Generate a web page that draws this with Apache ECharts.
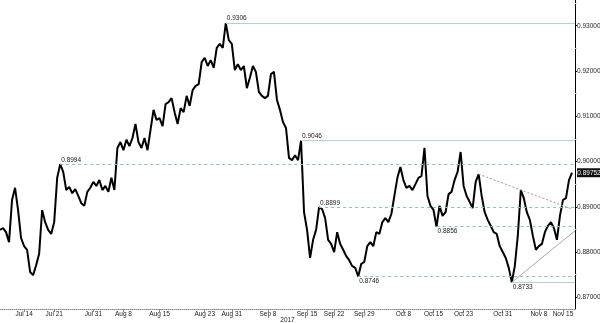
<!DOCTYPE html>
<html><head><meta charset="utf-8">
<script src="https://cdn.jsdelivr.net/npm/echarts@6/dist/echarts.min.js"></script>
<style>html,body{margin:0;padding:0;background:#fff}#c{width:600px;height:323px}</style>
</head><body><div id="c"></div>
<script>
// Price series (one value per ~half trading day)
const price = [
0.8849,0.8853,0.8844,0.8822,0.8915,0.8942,0.8893,0.8831,0.8813,0.8805,
0.8756,0.8749,0.8771,0.8796,0.8893,0.8866,0.8849,0.8840,0.8866,0.8964,
0.8994,0.8977,0.8937,0.8944,0.8930,0.8939,0.8924,0.8908,0.8902,0.8933,
0.8942,0.8955,0.8946,0.8959,0.8937,0.8946,0.8933,0.8964,0.8937,0.9030,
0.9043,0.9025,0.9048,0.9034,0.9052,0.9083,0.9043,0.9030,0.9052,0.9025,
0.9070,0.9114,0.9092,0.9096,0.9078,0.9127,0.9131,0.9140,0.9109,0.9083,
0.9118,0.9109,0.9145,0.9123,0.9158,0.9167,0.9171,0.9220,0.9229,0.9211,
0.9224,0.9207,0.9251,0.9260,0.9251,0.9306,0.9268,0.9260,0.9202,0.9215,
0.9202,0.9211,0.9162,0.9185,0.9211,0.9198,0.9154,0.9145,0.9140,0.9145,
0.9193,0.9198,0.9136,0.9114,0.9087,0.9074,0.9008,0.9003,0.9014,0.9003,
0.9046,0.8888,0.8849,0.8787,0.8827,0.8849,0.8899,0.8895,0.8875,0.8827,
0.8818,0.8800,0.8844,0.8818,0.8805,0.8791,0.8782,0.8769,0.8765,0.8746,
0.8774,0.8778,0.8813,0.8822,0.8813,0.8844,0.8840,0.8866,0.8875,0.8866,
0.8884,0.8924,0.8964,0.8988,0.8959,0.8942,0.8946,0.8937,0.8950,0.8964,
0.8968,0.9030,0.8924,0.8902,0.8893,0.8856,0.8902,0.8880,0.8888,0.8928,
0.8933,0.8959,0.8977,0.9021,0.8946,0.8924,0.8911,0.8897,0.8955,0.8972,
0.8924,0.8888,0.8871,0.8858,0.8844,0.8840,0.8813,0.8800,0.8787,0.8765,
0.8733,0.8769,0.8836,0.8937,0.8919,0.8888,0.8871,0.8836,0.8805,0.8813,
0.8818,0.8844,0.8858,0.8866,0.8853,0.8827,0.8880,0.8915,0.8919,0.8959,
0.89752,null
];
const xTickLabels = ['Jul 14','Jul 21','Jul 31','Aug 8','Aug 15','Aug 23','Aug 31','Sep 8','Sep 15','Sep 22','Sep 29','Oct 8','Oct 15','Oct 23','Oct 31','Nov 8','Nov 15'];
const xTickAt = [8,18,31,41,53,68,77,89,102,111,121,134,144,154,167,179,187];
const yearLabel = '2017';
const yTicks = [0.87,0.88,0.89,0.90,0.91,0.92,0.93];
const yMinorTicks = [0.875,0.885,0.895,0.905,0.915,0.925,0.935];
// Horizontal support / resistance levels
const levelValues = [0.9306,0.9046,0.8994,0.8899,0.8856,0.8746,0.8733];
const levelFrom   = [75,100,20,106,145,119,170];
const levelSolid  = [true,true,false,false,false,false,true];
const levelBelow  = [false,false,false,false,true,true,true];
// Trend lines [index, value]
const trendDown = [[159,0.8972],[190,0.8895]];
const trendUp   = [[170,0.8733],[191,0.8847]];
const lastPrice = 0.89752;

const xCats = price.map((_, i) => String(i));
const lastIdx = xCats.length - 1;
const labelAt = {};
xTickAt.forEach((k, j) => { labelAt[k] = xTickLabels[j]; });

const FONT = 'Liberation Sans';
const lines = levelValues.map((v, j) => [
  {coord: [levelFrom[j], v],
   lineStyle: {color: levelSolid[j] ? '#a9d9ca' : '#86c6b1', width: 1, type: levelSolid[j] ? 'solid' : [3, 3]},
   label: {show: true, position: levelBelow[j] ? 'insideStartBottom' : 'insideStartTop',
           formatter: v.toFixed(4), fontSize: 6.5, fontFamily: FONT, color: '#222', distance: 1}},
  {coord: [lastIdx, v]}
]);
lines.push([
  {coord: trendDown[0], lineStyle: {color: '#999', width: 1, type: [2, 2]}, label: {show: false}},
  {coord: trendDown[1]}
]);
lines.push([
  {coord: trendUp[0], lineStyle: {color: '#aaa', width: 1, type: 'solid'}, label: {show: false}},
  {coord: trendUp[1]}
]);

const chart = echarts.init(document.getElementById('c'), null, {renderer: 'canvas'});
chart.setOption({
  animation: false,
  backgroundColor: '#fff',
  grid: {left: 0, right: 25, top: 0, bottom: 14, containLabel: false, outerBoundsMode: 'none'},
  xAxis: {
    type: 'category', data: xCats, boundaryGap: false,
    axisLine: {lineStyle: {color: '#888', type: 'dotted', width: 1}},
    axisTick: {interval: (i) => labelAt[i] !== undefined, length: 3, lineStyle: {color: '#888'}},
    axisLabel: {interval: (i) => labelAt[i] !== undefined, formatter: (v, i) => labelAt[i] || '',
                fontSize: 6.5, fontFamily: FONT, color: '#222', margin: 2},
    splitLine: {show: false},
    name: yearLabel, nameLocation: 'middle', nameGap: 8, nameMoveOverlap: false,
    nameTextStyle: {fontSize: 6.5, fontFamily: FONT, color: '#222'}
  },
  yAxis: [{
    type: 'value', position: 'right', min: 0.86742, max: 0.93568,
    axisLine: {show: true, lineStyle: {color: '#000', width: 1}},
    axisTick: {show: true, customValues: yTicks, length: 2, lineStyle: {color: '#000'}},
    axisLabel: {customValues: yTicks, formatter: (v) => v.toFixed(5), fontSize: 6.5, fontFamily: FONT, color: '#222', margin: 2},
    splitLine: {show: false}
  }, {
    type: 'value', position: 'right', min: 0.86742, max: 0.93568,
    axisLine: {show: false},
    axisTick: {show: true, customValues: yMinorTicks, length: 2, lineStyle: {color: '#ccc'}},
    axisLabel: {show: false},
    splitLine: {show: false}
  }],
  series: [{
    type: 'line', data: price, showSymbol: false, symbol: 'none',
    lineStyle: {color: '#000', width: 2},
    markLine: {silent: true, symbol: 'none', animation: false, data: lines},
    markPoint: {
      silent: true, animation: false,
      data: [{coord: [lastIdx - 1, lastPrice], symbol: 'rect', symbolSize: [24, 9], symbolOffset: [17, 0],
              itemStyle: {color: '#111'},
              label: {show: true, position: 'inside', formatter: lastPrice.toFixed(5), color: '#fff', fontSize: 6.5, fontFamily: FONT}}]
    }
  }]
});
</script>
</body></html>
